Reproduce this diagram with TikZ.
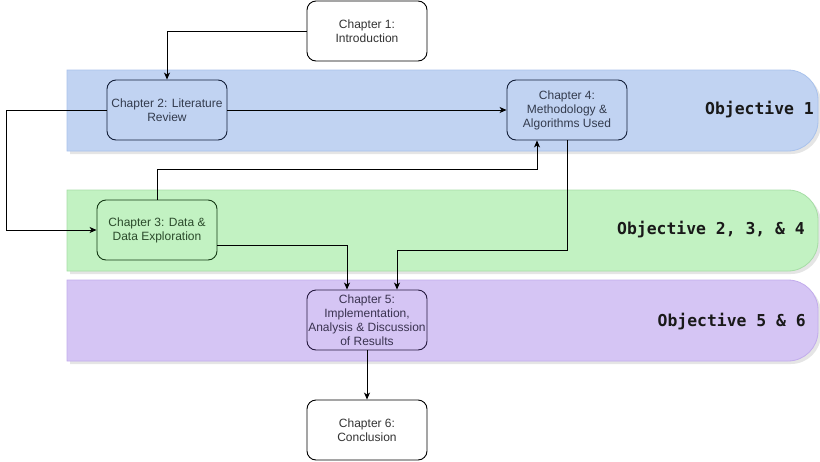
\documentclass[tikz,border=0pt]{standalone}
\usepackage{fontspec}
\setmainfont{Liberation Sans}
\newfontfamily\objfont{DejaVu Sans Mono}
\usetikzlibrary{arrows.meta}
\definecolor{bluefill}{HTML}{C1D3F2}
\definecolor{blueline}{HTML}{A9C2EC}
\definecolor{greenfill}{HTML}{C2F2C2}
\definecolor{greenline}{HTML}{A6DDA6}
\definecolor{purplefill}{HTML}{D5C5F4}
\definecolor{purpleline}{HTML}{C2ACEC}
\definecolor{txt}{HTML}{333333}
\definecolor{bluetxt}{HTML}{333B4D}
\definecolor{greentxt}{HTML}{2B4A2B}
\definecolor{purpletxt}{HTML}{3A3350}
\definecolor{navy}{HTML}{14203A}
\definecolor{dkgreen}{HTML}{153A15}
\definecolor{dkpurple}{HTML}{261A40}
% a horizontal band, square on the left and rounded on the right
% #1 = top y, #2 = fill, #3 = outline
\newcommand\objband[3]{%
  \fill[black!10] (70,-#1-3) -- (791,-#1-3) arc[start angle=90,end angle=0,radius=30]
    -- (821,-#1-54) arc[start angle=0,end angle=-90,radius=30] -- (70,-#1-84) -- cycle;
  \draw[fill=#2,draw=#3,line width=0.8pt] (67,-#1) -- (788,-#1) arc[start angle=90,end angle=0,radius=30]
    -- (818,-#1-51) arc[start angle=0,end angle=-90,radius=30] -- (67,-#1-81) -- cycle;
}
\tikzset{
  chapter/.style={rectangle, rounded corners=9pt, minimum width=120pt, minimum height=60pt,
    inner sep=0pt, align=center, font=\fontsize{12}{14}\selectfont, text=txt, line width=0.9pt},
  objective/.style={anchor=east, inner sep=0pt, font=\objfont\bfseries\fontsize{16.4}{18}\selectfont, text=black!90},
  arr/.style={-{Stealth[length=7pt,width=6pt,inset=2pt]}, line width=0.8pt, line join=miter}
}
\begin{document}
\begin{tikzpicture}[x=1pt,y=1pt]
\useasboundingbox (0,0) rectangle (820,-461);

% objective bands
\objband{70}{bluefill}{blueline}
\objband{190}{greenfill}{greenline}
\objband{280}{purplefill}{purpleline}

\node[objective] (o1) at (814,-110) {Objective 1};
\node[objective] (o2) at (805,-230) {Objective 2, 3, \& 4};
\node[objective] (o3) at (806,-322) {Objective 5 \& 6};

% chapters
\node[chapter, draw=black, fill=white] (c1) at (367,-31) {Chapter 1:\\Introduction};
\node[chapter, draw=navy, text=bluetxt] (c2) at (167,-110) {Chapter 2: Literature\\Review};
\node[chapter, draw=navy, text=bluetxt] (c4) at (567,-110) {Chapter 4:\\Methodology \&\\Algorithms Used};
\node[chapter, draw=dkgreen, text=greentxt] (c3) at (157,-230) {Chapter 3: Data \&\\Data Exploration};
\node[chapter, draw=dkpurple, text=purpletxt] (c5) at (367,-320) {Chapter 5:\\Implementation,\\Analysis \& Discussion\\of Results};
\node[chapter, draw=black, fill=white] (c6) at (367,-430) {Chapter 6:\\Conclusion};

% flow between chapters
\draw[arr] (c1.west) -| (c2.north);
\draw[arr] (c2.east) -- (c4.west);
\draw[arr] (c2.west) -- ++(-100,0) |- (c3.west);
\draw[arr] (c3.north) -- ++(0,30) -| ([xshift=-30pt]c4.south);
\draw[arr] ([yshift=-15pt]c3.east) -| ([xshift=-20pt]c5.north);
\draw[arr] (c4.south) -- ++(0,-110) -| ([xshift=30pt]c5.north);
\draw[arr] (c5.south) -- (c6.north);
\end{tikzpicture}
\end{document}
